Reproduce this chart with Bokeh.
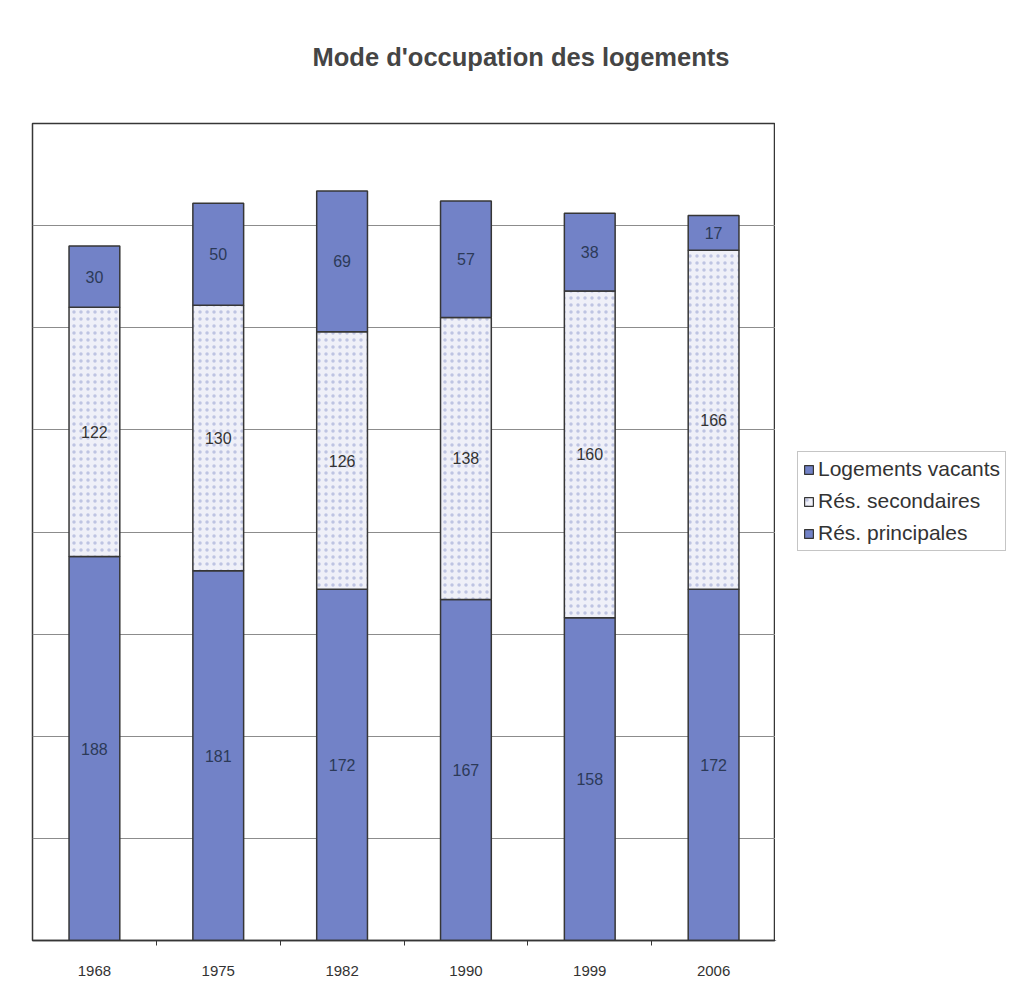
import numpy as np
from bokeh.plotting import figure
from bokeh.layouts import row
from bokeh.core.properties import value
from bokeh.models import (ColumnDataSource, Range1d, FixedTicker, SingleIntervalTicker,
                          LabelSet, Legend, LegendItem)
from bokeh.embed import file_html
from bokeh.resources import INLINE

# Housing occupancy by census year
years = ["1968", "1975", "1982", "1990", "1999", "2006"]
principales = [188, 181, 172, 167, 158, 172]
secondaires = [122, 130, 126, 138, 160, 166]
vacants = [30, 50, 69, 57, 38, 17]

BLUE = "#7282c7"
EDGE = "#363636"
FONT = "Liberation Sans"
SEC_STYLE = dict(fill_color="#eff0f8", hatch_pattern=".", hatch_color="#a9b0d8",
                 hatch_scale=7, hatch_alpha=0.7)

n = len(years)
xpos = np.arange(n) + 0.5

p = np.array(principales, dtype=float)
s = np.array(secondaires, dtype=float)
v = np.array(vacants, dtype=float)

src = ColumnDataSource(dict(
    x=xpos,
    p0=np.zeros(n), p1=p,
    s0=p, s1=p + s,
    v0=p + s, v1=p + s + v,
    pm=p / 2, sm=p + s / 2, vm=p + s + v / 2,
    pl=[str(a) for a in principales],
    sl=[str(a) for a in secondaires],
    vl=[str(a) for a in vacants],
))

fig = figure(width=775, height=987, output_backend="svg", toolbar_location=None,
             x_range=Range1d(0, n), y_range=Range1d(0, 400),
             min_border_left=32, min_border_right=0,
             min_border_top=123, min_border_bottom=47)
fig.background_fill_color = "white"
fig.border_fill_color = "white"
fig.outline_line_color = EDGE
fig.outline_line_width = 1.5

# title above the plot area
fig.title.text = "Mode d'occupation des logements"
fig.title.align = "left"
fig.title.offset = 280
fig.title.text_font = FONT
fig.title.text_font_size = "25.5px"
fig.title.text_font_style = "bold"
fig.title.text_color = "#454545"
fig.title.vertical_align = "top"
fig.title.padding = dict(left=0, right=0, top=0, bottom=18)
fig.title.standoff = 66

bw = 0.41
r_p = fig.vbar(x="x", bottom="p0", top="p1", width=bw, source=src,
               fill_color=BLUE, line_color=EDGE, line_width=1.5)
r_s = fig.vbar(x="x", bottom="s0", top="s1", width=bw, source=src,
               line_color=EDGE, line_width=1.5, **SEC_STYLE)
r_v = fig.vbar(x="x", bottom="v0", top="v1", width=bw, source=src,
               fill_color=BLUE, line_color=EDGE, line_width=1.5)

# segment value labels
for col, ycol, color in [("pl", "pm", "#2c3a58"), ("sl", "sm", "#333333"), ("vl", "vm", "#2c3a58")]:
    fig.add_layout(LabelSet(x="x", y=ycol, text=col, source=src,
                            text_align="center", text_baseline="middle",
                            text_font=value(FONT), text_font_size=value("16px"),
                            text_color=value(color)))

# axes and grid
fig.yaxis.visible = False
fig.ygrid.ticker = SingleIntervalTicker(interval=50)
fig.ygrid.grid_line_color = "#8c8c8c"
fig.ygrid.grid_line_width = 1
fig.xgrid.visible = False

xa = fig.xaxis[0]
xa.ticker = FixedTicker(ticks=list(xpos), minor_ticks=list(np.arange(1, n)))
xa.major_label_overrides = {float(x): y for x, y in zip(xpos, years)}
xa.major_tick_out = 0
xa.major_tick_in = 0
xa.minor_tick_out = 5
xa.minor_tick_in = 0
xa.minor_tick_line_color = EDGE
xa.axis_line_color = EDGE
xa.axis_line_width = 1.5
xa.major_label_standoff = 20
xa.major_label_text_font = FONT
xa.major_label_text_font_size = "15px"
xa.major_label_text_color = "#333333"

# legend panel to the right of the chart; its key swatches come from
# one-row sources placed outside the visible range
side = figure(width=242, height=987, output_backend="svg", toolbar_location=None,
              x_range=Range1d(0, 1), y_range=Range1d(0, 1),
              x_axis_type=None, y_axis_type=None,
              min_border_left=0, min_border_right=0, min_border_top=0, min_border_bottom=0)
side.outline_line_color = None
side.background_fill_color = "white"
side.border_fill_color = "white"
side.xgrid.visible = False
side.ygrid.visible = False
key_src = ColumnDataSource(dict(x=[-5.0], b=[-5.0], t=[-4.0]))
k_v = side.vbar(x="x", bottom="b", top="t", width=0.1, source=key_src,
                fill_color=BLUE, line_color=EDGE, line_width=1.2)
k_s = side.vbar(x="x", bottom="b", top="t", width=0.1, source=key_src,
                line_color=EDGE, line_width=1.2, **SEC_STYLE)
k_p = side.vbar(x="x", bottom="b", top="t", width=0.1, source=key_src,
                fill_color=BLUE, line_color=EDGE, line_width=1.2)

legend = Legend(items=[
    LegendItem(label="Logements vacants", renderers=[k_v]),
    LegendItem(label="Rés. secondaires", renderers=[k_s]),
    LegendItem(label="Rés. principales", renderers=[k_p]),
], location=(22, 389))
legend.label_text_font = FONT
legend.label_text_font_size = "21px"
legend.label_text_color = "#333333"
legend.glyph_width = 11
legend.glyph_height = 11
legend.label_standoff = 4
legend.label_height = 24
legend.spacing = 8
legend.padding = 5
legend.margin = 0
legend.border_line_color = "#8c8c8c"
legend.border_line_width = 1
legend.background_fill_color = "white"
side.add_layout(legend, "center")

layout = row(fig, side)
html = file_html(layout, INLINE)
open("out.html", "w").write(html)
